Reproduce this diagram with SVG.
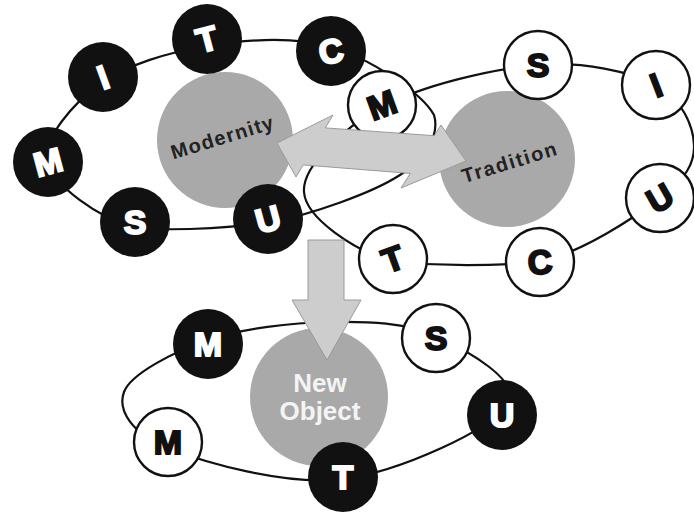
<svg xmlns="http://www.w3.org/2000/svg" width="694" height="513" viewBox="0 0 694 513">
<style>
.loop{fill:none;stroke:#111;stroke-width:2.2}
.blk{fill:#111}
.wht{fill:#fff;stroke:#111;stroke-width:2.4}
.big{fill:#a9a9a9}
.lw{font-family:"Liberation Sans",Arial,sans-serif;font-weight:bold;font-size:34px;fill:#fff;stroke:#fff;stroke-width:2;text-anchor:middle}
.lb{font-family:"Liberation Sans",Arial,sans-serif;font-weight:bold;font-size:34px;fill:#111;stroke:#111;stroke-width:2;text-anchor:middle}
.cap{font-family:"Liberation Sans",Arial,sans-serif;font-weight:bold;font-size:20px;fill:#222;text-anchor:middle}
.capw{font-family:"Liberation Sans",Arial,sans-serif;font-weight:bold;font-size:26px;fill:#f4f4f4;text-anchor:middle}
.arrow{fill:#cdcdcd;stroke:#9a9a9a;stroke-width:1}
</style>
<rect width="694" height="513" fill="#fff"/>
<g id="loops">
<path class="loop" d="M48,162 C42.2,138 73.5,103.3 100,84 C126.5,64.7 168.5,52.3 207,46 C245.5,39.7 293,36 331,47 C368.8,57.5 422.5,93.5 434,115 C440,135 425,160 400,175 C372.3,193 312.2,214.2 268,223 C224,228 175,231 135,228 C98.3,217.8 53.8,186 48,162 Z"/>
<path class="loop" d="M382,107 C421,85.8 492.3,68.7 538,65 C583.7,61.3 630,71.7 656,85 C682,98.3 693.3,126.2 694,145 C694.7,163.8 685.7,178.5 660,198 C634.3,217.5 584.5,251.3 540,262 C495,266 440,266 393,262 C353.7,250.3 305.8,217.8 304,192 C302.2,166.2 343,128.2 382,107 Z"/>
<path class="loop" d="M208,340 C242.3,328.3 292,322.7 330,322 C368,321.3 406.3,322.2 436,336 C465.7,349.8 523.5,381.2 508,405 C492.5,428.8 399.7,471.8 343,479 C286.3,486.2 204.5,462.5 168,448 C131.5,433.5 117.3,410 124,392 C130.7,374 173.7,351.7 208,340 Z"/>
</g>
<g id="modernity"><circle class="big" cx="225" cy="140" r="68"/><text class="cap" transform="translate(224,144) rotate(-17)" textLength="106" lengthAdjust="spacing">Modernity</text></g>
<g id="tradition"><circle class="big" cx="507" cy="159" r="68"/><text class="cap" transform="translate(511,169) rotate(-17)" textLength="98" lengthAdjust="spacing">Tradition</text></g>
<g id="newobject"><circle class="big" cx="319" cy="397" r="69"/><text class="capw" x="320" y="392">New</text><text class="capw" x="320" y="420">Object</text></g>
<g id="m1" transform="translate(48,162)"><circle class="blk" r="35"/><text class="lw" y="12" transform="rotate(-15)">M</text></g>
<g id="i1" transform="translate(103,77)"><circle class="blk" r="35"/><text class="lw" y="12" transform="rotate(-20)">I</text></g>
<g id="t1" transform="translate(207,39)"><circle class="blk" r="35"/><text class="lw" y="12" transform="rotate(-15)">T</text></g>
<g id="c1" transform="translate(331,51)"><circle class="blk" r="35"/><text class="lw" y="12" transform="rotate(-10)">C</text></g>
<g id="s1" transform="translate(135,222)"><circle class="blk" r="35"/><text class="lw" y="12">S</text></g>
<g id="u1" transform="translate(268,219)"><circle class="blk" r="35"/><text class="lw" y="12" transform="rotate(-15)">U</text></g>
<g id="m2" transform="translate(382,105)"><circle class="wht" r="34"/><text class="lb" y="12" transform="rotate(-20)">M</text></g>
<g id="s2" transform="translate(538,65)"><circle class="wht" r="34"/><text class="lb" y="12">S</text></g>
<g id="i2" transform="translate(656,85)"><circle class="wht" r="34"/><text class="lb" y="12" transform="rotate(-21)">I</text></g>
<g id="u2" transform="translate(660,198)"><circle class="wht" r="34"/><text class="lb" y="12" transform="rotate(-30)">U</text></g>
<g id="c2" transform="translate(540,262)"><circle class="wht" r="34"/><text class="lb" y="12" transform="rotate(-5)">C</text></g>
<g id="t2" transform="translate(393,259)"><circle class="wht" r="34"/><text class="lb" y="12" transform="rotate(-20)">T</text></g>
<g id="m3" transform="translate(208,344)"><circle class="blk" r="35"/><text class="lw" y="12">M</text></g>
<g id="s3" transform="translate(436,338)"><circle class="wht" r="34"/><text class="lb" y="12">S</text></g>
<g id="u3" transform="translate(502,415)"><circle class="blk" r="35"/><text class="lw" y="12">U</text></g>
<g id="t3" transform="translate(343,477)"><circle class="blk" r="35"/><text class="lw" y="12">T</text></g>
<g id="m4" transform="translate(168,442)"><circle class="wht" r="34"/><text class="lb" y="12">M</text></g>
<g id="arrows">
<polygon class="arrow" points="277,143 333,115 325.3,127.9 434.2,135.7 441,125 466,161 401,188 410.3,173.4 303.2,164.9 296,177"/>
<polygon class="arrow" points="308,240 344,240 344,300 361,300 327,360 292,300 308,300"/>
</g>
</svg>
